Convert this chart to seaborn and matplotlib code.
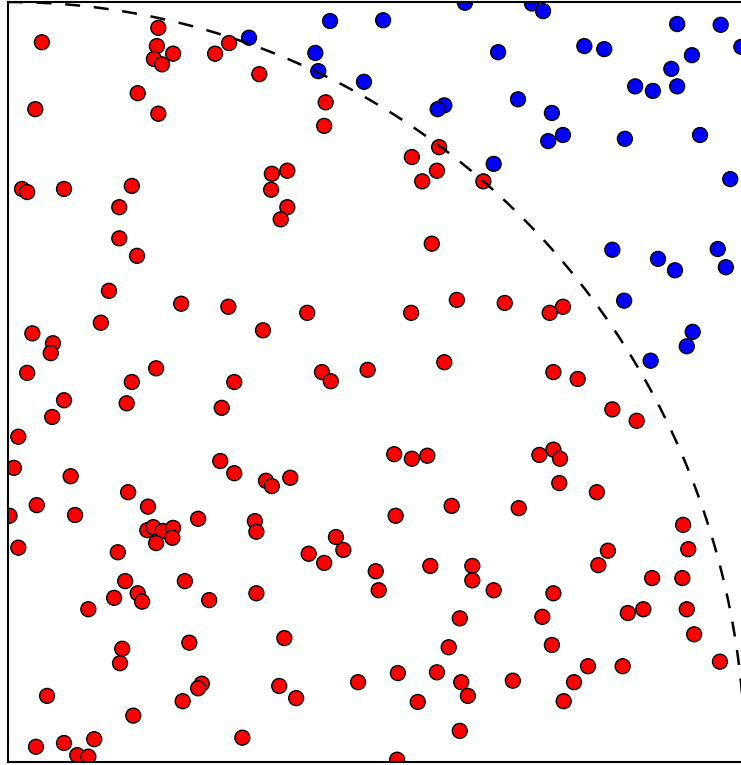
import numpy as np
import pandas as pd
import matplotlib
matplotlib.use("Agg")
import matplotlib.pyplot as plt
import seaborn as sns

# Random samples in the unit square: those inside the quarter circle (red)
inside_x = [0.046, 0.204, 0.202, 0.198, 0.209, 0.224, 0.281, 0.300, 0.341, 0.176,
            0.037, 0.204, 0.019, 0.026, 0.076, 0.168, 0.151, 0.151, 0.175, 0.431,
            0.429, 0.585, 0.548, 0.582, 0.562, 0.645, 0.358, 0.379, 0.357, 0.379,
            0.370, 0.575, 0.137, 0.235, 0.299, 0.126, 0.033, 0.061, 0.058, 0.026,
            0.168, 0.201, 0.307, 0.076, 0.161, 0.060, 0.290, 0.014, 0.008, 0.085,
            0.288, 0.307, 0.163, 0.039, 0.190, 0.091, 0.002, 0.258, 0.346, 0.406,
            0.547, 0.609, 0.426, 0.438, 0.488, 0.592, 0.524, 0.548, 0.569, 0.350,
            0.358, 0.383, 0.602, 0.526, 0.674, 0.753, 0.735, 0.740, 0.773, 0.820,
            0.853, 0.740, 0.721, 0.749, 0.748, 0.799, 0.693, 0.189, 0.197, 0.210,
            0.224, 0.201, 0.223, 0.335, 0.337, 0.014, 0.149, 0.159, 0.240, 0.176,
            0.182, 0.144, 0.273, 0.109, 0.337, 0.246, 0.155, 0.152, 0.263, 0.258,
            0.237, 0.053, 0.170, 0.318, 0.038, 0.076, 0.117, 0.094, 0.109, 0.445,
            0.455, 0.408, 0.429, 0.499, 0.503, 0.573, 0.630, 0.630, 0.659, 0.613,
            0.375, 0.598, 0.529, 0.582, 0.475, 0.615, 0.624, 0.368, 0.391, 0.556,
            0.613, 0.528, 0.916, 0.923, 0.814, 0.801, 0.874, 0.915, 0.740, 0.725,
            0.862, 0.841, 0.921, 0.931, 0.738, 0.966, 0.787, 0.834, 0.685, 0.768,
            0.754]
inside_y = [0.947, 0.966, 0.942, 0.925, 0.918, 0.932, 0.932, 0.946, 0.905, 0.880,
            0.859, 0.853, 0.754, 0.750, 0.754, 0.758, 0.730, 0.689, 0.666, 0.868,
            0.837, 0.809, 0.796, 0.778, 0.764, 0.764, 0.774, 0.778, 0.753, 0.730,
            0.714, 0.682, 0.620, 0.603, 0.599, 0.578, 0.564, 0.551, 0.538, 0.512,
            0.500, 0.518, 0.500, 0.476, 0.472, 0.454, 0.466, 0.428, 0.387, 0.376,
            0.396, 0.380, 0.355, 0.338, 0.336, 0.325, 0.324, 0.320, 0.568, 0.591,
            0.591, 0.608, 0.513, 0.501, 0.516, 0.526, 0.405, 0.399, 0.403, 0.370,
            0.363, 0.374, 0.337, 0.324, 0.604, 0.599, 0.591, 0.513, 0.504, 0.464,
            0.449, 0.411, 0.404, 0.399, 0.367, 0.355, 0.334, 0.305, 0.309, 0.304,
            0.308, 0.288, 0.295, 0.317, 0.303, 0.282, 0.276, 0.238, 0.238, 0.222,
            0.211, 0.216, 0.213, 0.201, 0.222, 0.157, 0.149, 0.130, 0.103, 0.097,
            0.080, 0.087, 0.061, 0.032, 0.020, 0.025, 0.030, 0.009, 0.007, 0.296,
            0.279, 0.274, 0.262, 0.251, 0.226, 0.258, 0.258, 0.239, 0.226, 0.189,
            0.163, 0.151, 0.117, 0.118, 0.105, 0.105, 0.087, 0.100, 0.084, 0.079,
            0.041, 0.003, 0.312, 0.280, 0.278, 0.259, 0.242, 0.242, 0.222, 0.191,
            0.201, 0.196, 0.201, 0.168, 0.154, 0.132, 0.126, 0.126, 0.107, 0.105,
            0.080]

# Samples falling outside the quarter circle (blue)
outside_x = [0.327, 0.417, 0.421, 0.437, 0.509, 0.483, 0.592, 0.583, 0.620, 0.665,
             0.711, 0.726, 0.692, 0.738, 0.753, 0.733, 0.659, 0.782, 0.809, 0.837,
             0.908, 0.967, 0.995, 0.928, 0.900, 0.851, 0.875, 0.908, 0.939, 0.980,
             0.820, 0.882, 0.905, 0.963, 0.974, 0.836, 0.929, 0.921, 0.872]
outside_y = [0.953, 0.933, 0.909, 0.975, 0.976, 0.895, 0.864, 0.859, 0.999, 0.934,
             0.998, 0.988, 0.872, 0.854, 0.825, 0.817, 0.787, 0.942, 0.938, 0.820,
             0.971, 0.970, 0.941, 0.930, 0.912, 0.889, 0.883, 0.889, 0.825, 0.767,
             0.674, 0.662, 0.647, 0.675, 0.651, 0.607, 0.566, 0.547, 0.528]

df = pd.concat([
    pd.DataFrame({"x": inside_x, "y": inside_y, "region": "inside"}),
    pd.DataFrame({"x": outside_x, "y": outside_y, "region": "outside"}),
], ignore_index=True)

sns.set_style("white")

fig = plt.figure(figsize=(7.41, 7.65), dpi=100)
ax = fig.add_axes([8 / 741, 3 / 765, 737 / 741, 760 / 765])

sns.scatterplot(data=df, x="x", y="y", hue="region",
                palette={"inside": "#ff0000", "outside": "#0000ff"},
                s=115, edgecolor="black", linewidth=1.0, legend=False,
                ax=ax, zorder=2)

# Quarter unit circle boundary, drawn over the samples
theta = np.linspace(0, np.pi / 2, 300)
ax.plot(np.cos(theta), np.sin(theta), color="black", linewidth=1.8,
        dashes=(6, 5.5), zorder=3)

ax.set_xlim(0, 1)
ax.set_ylim(0, 1)
ax.set_xticks([])
ax.set_yticks([])
ax.set_xlabel("")
ax.set_ylabel("")
for sp in ax.spines.values():
    sp.set_visible(True)
    sp.set_color("black")
    sp.set_linewidth(1.5)

fig.savefig("out.png", dpi=100)
